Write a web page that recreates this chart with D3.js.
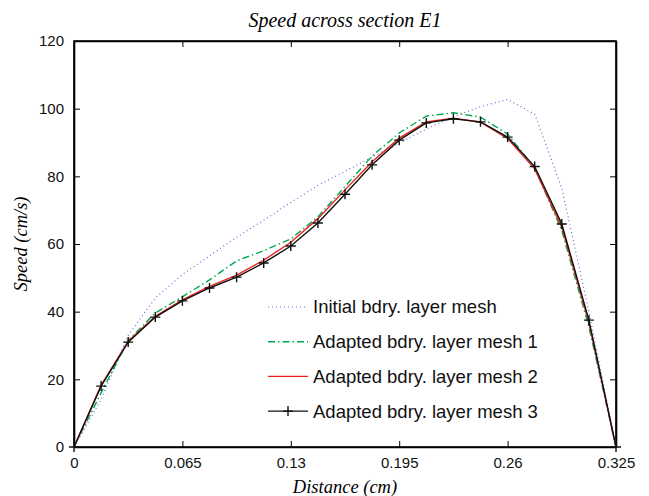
<!DOCTYPE html>
<html>
<head>
<meta charset="utf-8">
<script src="https://cdn.jsdelivr.net/npm/d3@7"></script>
<style>
  body { margin: 0; background: #fff; }
  svg { display: block; }
</style>
</head>
<body>
<div id="chart"></div>
<script>
// distances along section E1 (cm), 21 sample points
var distance = [0, 0.01625, 0.0325, 0.04875, 0.065, 0.08125, 0.0975, 0.11375, 0.13, 0.14625, 0.1625,
                0.17875, 0.195, 0.21125, 0.2275, 0.24375, 0.26, 0.27625, 0.2925, 0.30875, 0.325];

var initialMesh = [0, 14, 33, 44, 51, 56.5, 62, 67, 72.3, 77.3, 81.5, 85.7, 89.8, 94, 97.6, 100.6, 102.7, 98.4, 76.5, 40, 0];
var adaptedMesh1 = [0, 16, 31.5, 39.6, 44.4, 49.4, 55, 58, 61.5, 68, 77, 86, 92.8, 97.8, 98.8, 97.5, 92.5, 82.5, 64, 35.5, 0];
var adaptedMesh2 = [0, 18.2, 31.3, 38.6, 43.5, 47.5, 50.8, 55.2, 60.5, 67.5, 76, 84.3, 91.3, 96.1, 97.2, 96.0, 91.2, 82.2, 65.0, 36.8, 0];
var adaptedMesh3 = [0, 18, 31, 38.4, 43.2, 47, 50.2, 54.4, 59.4, 66.2, 74.7, 83.4, 90.7, 95.8, 97.0, 96.1, 91.6, 82.9, 65.9, 37.5, 0];

var xTicks = [0, 0.065, 0.13, 0.195, 0.26, 0.325];
var yTicks = [0, 20, 40, 60, 80, 100, 120];

var seriesNames = ["Initial bdry. layer mesh", "Adapted bdry. layer mesh 1",
                   "Adapted bdry. layer mesh 2", "Adapted bdry. layer mesh 3"];

var width = 649, height = 496;
var margin = {top: 41, right: 33, bottom: 49, left: 74};
var w = width - margin.left - margin.right;
var h = height - margin.top - margin.bottom;

var svg = d3.select("#chart").append("svg")
    .attr("width", width)
    .attr("height", height);

var g = svg.append("g").attr("transform", "translate(" + margin.left + "," + margin.top + ")");

var x = d3.scaleLinear().domain([0, 0.325]).range([0, w]);
var y = d3.scaleLinear().domain([0, 120]).range([h, 0]);

var fmt = function(d) { return d === 0 ? "0" : String(d); };

// axes, ticks pointing inwards on all four sides
g.append("g").attr("class", "x-axis")
    .attr("transform", "translate(0," + h + ")")
    .call(d3.axisBottom(x).tickValues(xTicks).tickFormat(fmt).tickSizeInner(-6).tickSizeOuter(0).tickPadding(10));
g.append("g").attr("class", "x-axis-top")
    .call(d3.axisTop(x).tickValues(xTicks).tickFormat("").tickSizeInner(-6).tickSizeOuter(0));
g.append("g").attr("class", "y-axis")
    .call(d3.axisLeft(y).tickValues(yTicks).tickFormat(fmt).tickSizeInner(-6).tickSizeOuter(0).tickPadding(10));
g.append("g").attr("class", "y-axis-right")
    .attr("transform", "translate(" + w + ",0)")
    .call(d3.axisRight(y).tickValues(yTicks).tickFormat("").tickSizeInner(-6).tickSizeOuter(0));

g.selectAll(".domain").attr("stroke", "#000").attr("stroke-width", 1.6);
g.selectAll(".tick line").attr("stroke", "#000").attr("stroke-width", 1);
g.selectAll(".tick text")
    .attr("font-family", "'Liberation Sans', Arial, sans-serif")
    .attr("font-size", 15)
    .attr("fill", "#111");

// close the frame
g.append("rect").attr("width", w).attr("height", h)
    .attr("fill", "none").attr("stroke", "#000").attr("stroke-width", 1.6);

var series = [
  {name: seriesNames[0], values: initialMesh, color: "#6a6ad8", dash: "1,3", width: 1.2},
  {name: seriesNames[1], values: adaptedMesh1, color: "#00a651", dash: "7,3,1.5,3", width: 1.4},
  {name: seriesNames[2], values: adaptedMesh2, color: "#e8231f", dash: null, width: 1.4},
  {name: seriesNames[3], values: adaptedMesh3, color: "#111", dash: null, width: 1.4, marker: true}
];

var line = d3.line()
    .x(function(d, i) { return x(distance[i]); })
    .y(function(d) { return y(d); });

var plot = g.append("g");

series.forEach(function(s) {
  plot.append("path")
      .datum(s.values)
      .attr("fill", "none")
      .attr("stroke", s.color)
      .attr("stroke-width", s.width)
      .attr("stroke-dasharray", s.dash)
      .attr("d", line);
  if (s.marker) {
    plot.selectAll(".mk")
        .data(s.values)
        .enter().append("path")
        .attr("class", "mk")
        .attr("transform", function(d, i) { return "translate(" + x(distance[i]) + "," + y(d) + ")"; })
        .attr("d", "M-5,0H5M0,-5V5")
        .attr("stroke", s.color)
        .attr("stroke-width", 1.4);
  }
});

// legend
var legend = g.append("g").attr("transform", "translate(" + (268 - margin.left) + "," + (307 - margin.top) + ")");
series.forEach(function(s, i) {
  var row = legend.append("g").attr("transform", "translate(0," + (i * 34.7) + ")");
  row.append("line")
      .attr("x1", 0).attr("x2", 40).attr("y1", 0).attr("y2", 0)
      .attr("stroke", s.color)
      .attr("stroke-width", s.width)
      .attr("stroke-dasharray", s.dash);
  if (s.marker) {
    row.append("path").attr("d", "M15,0H25M20,-5V5")
        .attr("stroke", s.color).attr("stroke-width", 1.4);
  }
  row.append("text")
      .attr("x", 45).attr("y", 0).attr("dy", "0.35em")
      .attr("font-family", "'Liberation Sans', Arial, sans-serif")
      .attr("font-size", 18.5)
      .attr("fill", "#111")
      .text(s.name);
});

// titles
svg.append("text")
    .attr("x", margin.left + w / 2).attr("y", 27)
    .attr("text-anchor", "middle")
    .attr("font-family", "'Liberation Serif', 'Times New Roman', serif")
    .attr("font-style", "italic")
    .attr("font-size", 20)
    .text("Speed across section E1");

svg.append("text")
    .attr("x", margin.left + w / 2).attr("y", 493)
    .attr("text-anchor", "middle")
    .attr("font-family", "'Liberation Serif', 'Times New Roman', serif")
    .attr("font-style", "italic")
    .attr("font-size", 18.5)
    .text("Distance (cm)");

svg.append("text")
    .attr("transform", "translate(27," + (margin.top + h / 2) + ") rotate(-90)")
    .attr("text-anchor", "middle")
    .attr("font-family", "'Liberation Serif', 'Times New Roman', serif")
    .attr("font-style", "italic")
    .attr("font-size", 18.5)
    .text("Speed (cm/s)");
</script>
</body>
</html>
